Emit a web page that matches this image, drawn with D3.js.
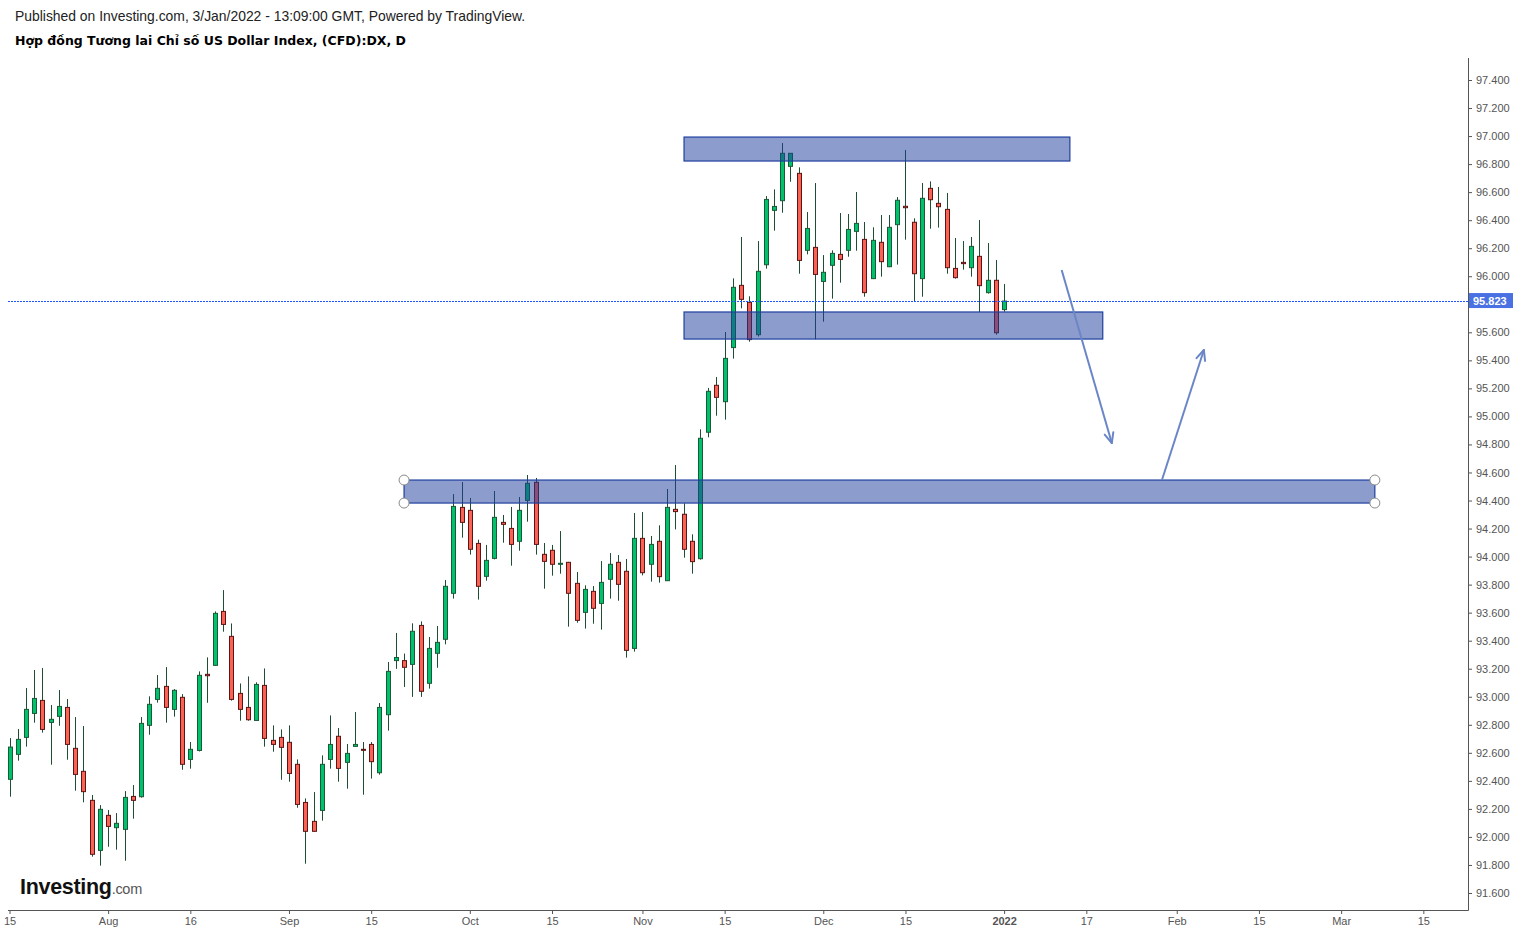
<!DOCTYPE html>
<html><head><meta charset="utf-8">
<script src="https://cdn.jsdelivr.net/npm/d3@7/dist/d3.min.js"></script>
<style>
html,body{margin:0;padding:0;background:#fff;}
svg{display:block;}
</style></head>
<body>
<svg id="c" width="1521" height="934"></svg>
<script>
// ---- data (bar index 0 = 15 Jul 2021 ... 121 = 3 Jan 2022) ----
const opens = [92.411,92.589,92.710,92.881,92.974,92.817,92.860,92.924,92.632,92.468,92.261,91.904,92.154,92.066,92.054,92.289,92.287,92.796,92.981,93.074,
92.910,92.996,92.553,92.617,93.160,93.224,93.609,93.431,93.024,92.924,92.831,93.081,92.689,92.710,92.675,92.518,92.246,92.111,92.189,92.553,
92.718,92.532,92.646,92.625,92.660,92.458,92.872,93.258,93.258,93.231,93.509,93.096,93.310,93.410,93.738,94.351,94.330,94.094,93.859,93.987,
94.244,94.201,94.109,94.401,94.530,94.016,94.045,93.945,93.959,93.809,93.602,93.752,93.666,93.838,93.959,93.895,93.345,94.130,93.945,94.109,
93.828,94.337,94.302,94.109,93.985,94.887,95.222,95.105,95.491,95.935,95.814,95.583,96.082,96.470,96.539,96.784,96.734,96.185,96.206,95.963,
96.078,96.156,96.185,96.320,96.263,95.983,96.242,96.068,96.368,96.499,96.385,95.983,96.627,96.520,96.477,96.056,96.099,96.061,96.142,95.883,
95.971,95.762];
const highs = [92.705,92.770,93.062,93.191,93.205,92.941,93.048,92.984,92.855,92.791,92.299,92.227,92.192,92.170,92.327,92.370,92.855,93.003,93.155,93.212,
93.055,93.019,92.677,93.181,93.281,93.609,93.761,93.523,93.095,93.145,93.103,93.202,92.796,92.767,92.796,92.553,92.275,92.320,92.582,92.867,
92.777,92.663,92.891,92.677,92.677,92.955,93.248,93.455,93.308,93.524,93.538,93.426,93.505,93.833,94.446,94.532,94.418,94.121,94.083,94.468,
94.297,94.354,94.425,94.582,94.561,94.097,94.083,94.182,93.962,93.890,93.795,93.790,93.968,94.025,94.011,93.983,94.311,94.318,94.147,94.223,
94.482,94.653,94.380,94.159,94.908,95.203,95.281,95.602,95.985,96.280,95.857,96.251,96.572,96.620,96.950,96.877,96.777,96.458,96.665,96.151,
96.185,96.451,96.444,96.601,96.387,96.349,96.437,96.437,96.565,96.901,96.413,96.665,96.677,96.637,96.594,96.273,96.251,96.280,96.401,96.237,
96.116,95.945];
const lows = [92.287,92.544,92.644,92.815,92.744,92.515,92.793,92.551,92.330,92.247,91.859,91.795,91.930,91.909,91.830,92.130,92.280,92.729,92.958,92.815,
92.858,92.479,92.487,92.610,92.957,93.220,93.464,92.972,92.829,92.829,92.828,92.644,92.608,92.408,92.394,92.208,91.809,92.038,92.116,92.487,
92.394,92.344,92.644,92.301,92.416,92.444,92.758,93.199,93.070,92.999,92.999,93.058,93.207,93.374,93.700,94.135,94.014,93.693,93.828,93.980,
94.099,93.935,94.042,94.249,94.014,93.771,93.864,93.878,93.500,93.528,93.486,93.521,93.479,93.700,93.685,93.279,93.322,93.866,93.821,93.814,
93.826,94.194,93.992,93.878,93.978,94.851,95.005,94.977,95.412,95.771,95.533,95.570,96.054,96.325,96.453,96.674,96.018,96.156,95.550,95.676,
95.840,95.954,96.139,96.182,95.854,95.980,95.997,96.065,96.083,96.261,95.819,95.854,96.339,96.347,96.018,95.983,96.047,95.997,95.745,95.876,
95.583,95.747];
const closes = [92.641,92.696,92.910,92.988,92.767,92.839,92.931,92.660,92.446,92.323,91.876,92.197,92.075,92.097,92.282,92.261,92.810,92.946,93.060,92.924,
93.046,92.518,92.625,93.153,93.150,93.595,93.516,92.981,92.910,92.836,93.088,92.703,92.660,92.639,92.453,92.232,92.040,92.040,92.518,92.660,
92.489,92.596,92.660,92.618,92.537,92.924,93.181,93.280,93.210,93.467,93.039,93.345,93.388,93.788,94.358,94.244,94.052,93.788,93.973,94.280,
94.230,94.087,94.330,94.523,94.087,93.966,93.945,93.952,93.738,93.545,93.766,93.631,93.816,93.945,93.802,93.331,94.130,93.885,94.087,93.857,
94.351,94.321,94.052,93.964,94.844,95.179,95.136,95.414,95.921,95.835,95.548,96.035,96.548,96.498,96.877,96.877,96.113,96.341,96.013,96.028,
96.163,96.120,96.334,96.377,95.883,96.256,96.104,96.349,96.542,96.489,96.018,96.556,96.546,96.496,96.061,95.990,96.090,96.213,95.933,95.971,
95.597,95.823];
const lastPrice = 95.823;

// 95.800 is hidden in the original behind the last-price label
const yTickValues = [91.6,91.8,92.0,92.2,92.4,92.6,92.8,93.0,93.2,93.4,93.6,93.8,94.0,94.2,94.4,94.6,94.8,95.0,95.2,95.4,95.6,96.0,96.2,96.4,96.6,96.8,97.0,97.2,97.4];
const xTickIndex  = [0,12,22,34,44,56,66,77,87,99,109,121,131,142,152,162,172];
const xTickLabels = ["15","Aug","16","Sep","15","Oct","15","Nov","15","Dec","15","2022","17","Feb","15","Mar","15"];

// drawn zones: [startIndex, endIndex, topPrice, bottomPrice]
const zoneTop    = [82.06, 129.0, 96.993, 96.822];
const zoneMiddle = [82.06, 133.0, 95.745, 95.552];
const zoneLower  = [48.0, 166.1, 94.546, 94.382];
// arrows: [[index, price] start, [index, price] end]
const arrowDown = [[128.0, 96.045], [134.1, 94.810]];
const arrowUp   = [[140.2, 94.546], [145.3, 95.474]];

// ---- layout ----
const svg = d3.select("#c");
const plotL = 8, plotR = 1468, plotT = 58, plotB = 910;
const x = d3.scaleLinear().domain([0, 121]).range([9.5, 9.5 + 121 * 8.22]);
const y = d3.scaleLinear().domain([91.6, 97.4]).range([893, 80]);

svg.append("defs").append("clipPath").attr("id","plot")
  .append("rect").attr("x",plotL).attr("y",plotT).attr("width",plotR-plotL).attr("height",plotB-plotT);

// header
svg.append("text").attr("x",15).attr("y",21)
  .style("font-family","'Liberation Sans', Arial, sans-serif").style("font-size","13.9px").attr("fill","#222")
  .text("Published on Investing.com, 3/Jan/2022 - 13:09:00 GMT, Powered by TradingView.");
svg.append("text").attr("x",15).attr("y",45)
  .style("font-family","'DejaVu Sans', Verdana, sans-serif").style("font-size","12.5px").style("font-weight","bold").attr("fill","#000")
  .text("Hợp đồng Tương lai Chỉ số US Dollar Index, (CFD):DX, D");

// logo
const logo = svg.append("text").attr("x",20).attr("y",894)
  .style("font-family","'Liberation Sans', Arial, sans-serif");
logo.append("tspan").style("font-size","21.5px").style("font-weight","bold").attr("fill","#111").attr("letter-spacing","-0.3").text("Investing");
logo.append("tspan").style("font-size","14.5px").attr("fill","#555").attr("letter-spacing","-0.3").text(".com");

const g = svg.append("g").attr("clip-path","url(#plot)");

// candles
const data = opens.map((o,i)=>({i, o, h:highs[i], l:lows[i], c:closes[i]}));
const bw = 4;
const cg = g.append("g");
cg.selectAll("line.w").data(data).join("line")
  .attr("x1",d=>Math.round(x(d.i))+0.5).attr("x2",d=>Math.round(x(d.i))+0.5)
  .attr("y1",d=>y(d.h)).attr("y2",d=>y(d.l))
  .attr("stroke","#1f4f33").attr("stroke-width",1);
cg.selectAll("rect.b").data(data).join("rect")
  .attr("x",d=>Math.round(x(d.i))-bw/2+0.5)
  .attr("y",d=>y(Math.max(d.o,d.c)))
  .attr("width",bw)
  .attr("height",d=>Math.max(1, Math.abs(y(d.o)-y(d.c))))
  .attr("fill",d=>d.c>=d.o ? "#00c26c" : "#fa6354")
  .attr("stroke",d=>d.c>=d.o ? "#1b5a37" : "#5e1414")
  .attr("stroke-width",1);

// price line
g.append("line").attr("x1",plotL).attr("x2",plotR).attr("y1",Math.round(y(lastPrice))+0.5).attr("y2",Math.round(y(lastPrice))+0.5)
  .attr("stroke","#1f55ff").attr("stroke-width",1).attr("stroke-dasharray","2,1");

// zones
function zone(z){
  g.append("rect").attr("x",x(z[0])).attr("y",y(z[2]))
    .attr("width",x(z[1])-x(z[0])).attr("height",y(z[3])-y(z[2]))
    .attr("fill","rgba(25,59,155,0.5)").attr("stroke","#1f3f9f").attr("stroke-width",1.2);
}
zone(zoneTop); zone(zoneMiddle); zone(zoneLower);

// handles
[[zoneLower[0],zoneLower[2]],[zoneLower[0],zoneLower[3]],[zoneLower[1],zoneLower[2]],[zoneLower[1],zoneLower[3]]].forEach(p=>{
  g.append("circle").attr("cx",x(p[0])).attr("cy",y(p[1])).attr("r",5)
   .attr("fill","#fff").attr("stroke","#8a8a8a").attr("stroke-width",1);
});

// arrows
function arrow(a){
  const x1=x(a[0][0]), y1=y(a[0][1]), x2=x(a[1][0]), y2=y(a[1][1]);
  const col="#6b86c7";
  g.append("line").attr("x1",x1).attr("y1",y1).attr("x2",x2).attr("y2",y2).attr("stroke",col).attr("stroke-width",2);
  const ang=Math.atan2(y2-y1,x2-x1), L=11, sp=0.42;
  [ang+Math.PI-sp, ang+Math.PI+sp].forEach(t=>{
    g.append("line").attr("x1",x2).attr("y1",y2).attr("x2",x2+L*Math.cos(t)).attr("y2",y2+L*Math.sin(t))
      .attr("stroke",col).attr("stroke-width",2).attr("stroke-linecap","round");
  });
}
arrow(arrowDown); arrow(arrowUp);

// axes
const font = "'Liberation Sans', Arial, sans-serif";
const ya = svg.append("g").attr("transform",`translate(${plotR},0)`)
  .call(d3.axisRight(y).tickValues(yTickValues).tickFormat(d3.format(".3f")).tickSize(4).tickPadding(4));
ya.select(".domain").remove();
ya.selectAll("line").attr("stroke","#555");
ya.selectAll("text").style("font-family",font).style("font-size","11px").attr("fill","#555");

const xa = svg.append("g").attr("transform",`translate(0,${plotB})`)
  .call(d3.axisBottom(x).tickValues(xTickIndex).tickFormat((d,i)=>xTickLabels[i]).tickSize(4).tickPadding(3));
xa.select(".domain").remove();
xa.selectAll("line").attr("stroke","#555");
xa.selectAll("text").style("font-family",font).style("font-size","11px").attr("fill","#555")
  .style("font-weight",(d,i)=>xTickLabels[i]==="2022"?"bold":"normal");

svg.append("line").attr("x1",plotR+0.5).attr("x2",plotR+0.5).attr("y1",plotT).attr("y2",plotB+0.5).attr("stroke","#555");
svg.append("line").attr("x1",plotL).attr("x2",plotR+0.5).attr("y1",plotB+0.5).attr("y2",plotB+0.5).attr("stroke","#555");

// last price label
const ly = y(lastPrice);
svg.append("rect").attr("x",plotR+1).attr("y",ly-8).attr("width",44).attr("height",15).attr("fill","#4a71e3");
svg.append("text").attr("x",plotR+5).attr("y",ly+4)
  .style("font-family",font).style("font-size","11px").style("font-weight","bold").attr("fill","#fff")
  .text(d3.format(".3f")(lastPrice));
</script>
</body></html>
